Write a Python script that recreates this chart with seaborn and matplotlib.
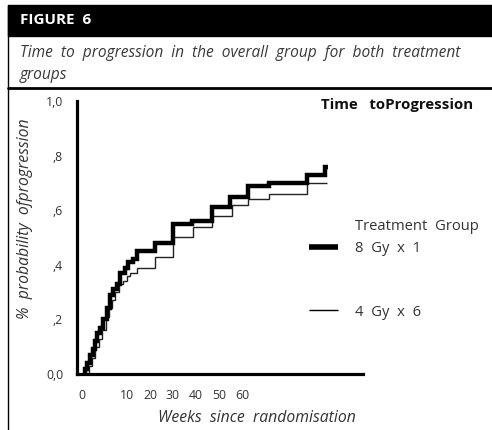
import matplotlib
matplotlib.use("Agg")
import matplotlib.pyplot as plt
import seaborn as sns
import pandas as pd
from matplotlib.patches import Rectangle
from matplotlib.lines import Line2D

# ---------------- data ----------------
weeks_8gy = [1.5, 1.7, 2.1, 2.7, 3.4, 3.8, 4.2, 4.8, 5.5, 6.3, 6.9, 7.5, 8.4, 9.0,
             10.1, 10.7, 11.7, 12.6, 16.4, 20.1, 24.1, 28.3, 32.1, 35.8, 40.3,
             48.2, 52.0, 52.6]
prob_8gy = [0.00, 0.02, 0.04, 0.07, 0.09, 0.12, 0.15, 0.17, 0.20, 0.24, 0.29, 0.31,
            0.33, 0.37, 0.39, 0.41, 0.42, 0.45, 0.48, 0.55, 0.56, 0.61, 0.65, 0.69,
            0.70, 0.73, 0.76, 0.76]
weeks_4gy = [2.0, 2.5, 3.1, 3.8, 4.6, 5.2, 6.1, 6.7, 7.3, 8.0, 8.8, 9.6, 10.5, 11.1,
             12.6, 16.4, 20.1, 24.3, 28.3, 32.5, 35.8, 40.3, 48.2, 52.4]
prob_4gy = [0.00, 0.03, 0.06, 0.10, 0.13, 0.16, 0.21, 0.24, 0.27, 0.30, 0.33, 0.34,
            0.36, 0.37, 0.39, 0.43, 0.50, 0.54, 0.58, 0.62, 0.64, 0.66, 0.70, 0.70]

group_labels = ["8  Gy  x  1", "4  Gy  x  6"]
y_ticks = [0.0, 0.2, 0.4, 0.6, 0.8, 1.0]
y_tick_labels = ["0,0", ",2", ",4", ",6", ",8", "1,0"]
x_tick_marks = [0, 10, 20, 30, 40, 50, 60]
x_label_pos = [1.05, 10.5, 15.3, 20.1, 24.9, 29.8, 34.6]
x_tick_labels = ["0", "10", "20", "30", "40", "50", "60"]

df = pd.concat([
    pd.DataFrame({"weeks": weeks_8gy, "prob": prob_8gy, "group": group_labels[0]}),
    pd.DataFrame({"weeks": weeks_4gy, "prob": prob_4gy, "group": group_labels[1]}),
])

# ---------------- figure ----------------
sns.set_style("white")
plt.rcParams["font.family"] = ["Open Sans", "DejaVu Sans"]

W, H = 492, 430
fig = plt.figure(figsize=(W / 100, H / 100), dpi=100)


def fx(x):
    return x / W


def fy(y):
    return 1 - y / H


TXT = "#333333"

# header bar
fig.patches.append(Rectangle((fx(8), fy(36)), fx(492 - 8), (36 - 5) / H,
                             transform=fig.transFigure, color="black", zorder=0))
fig.text(fx(20), fy(20.5), "FIGURE  6", color="white", fontsize=11,
         fontweight="bold", va="center", ha="left")
# caption
fig.text(fx(20), fy(53), "Time  to  progression  in  the  overall  group  for  both  treatment",
         fontsize=11.2, style="italic", color="#3a3a3a", va="center", ha="left")
fig.text(fx(20), fy(75), "groups", fontsize=11.2, style="italic", color="#3a3a3a",
         va="center", ha="left")
# frame lines
fig.lines.append(Line2D([fx(8), fx(8)], [fy(5), fy(430)], transform=fig.transFigure,
                        color="black", lw=1.0))
fig.lines.append(Line2D([fx(8), fx(492)], [fy(88), fy(88)], transform=fig.transFigure,
                        color="black", lw=2.0))

# axes
ax = fig.add_axes([fx(77), fy(374), fx(363 - 77), (374 - 101) / H])
ax.set_facecolor("none")

sns.lineplot(data=df[df.group == group_labels[1]], x="weeks", y="prob",
             estimator=None, sort=False, drawstyle="steps-post", color="#222222",
             linewidth=1.0, ax=ax, legend=False,
             solid_joinstyle="miter", solid_capstyle="butt")
sns.lineplot(data=df[df.group == group_labels[0]], x="weeks", y="prob",
             estimator=None, sort=False, drawstyle="steps-post", color="black",
             linewidth=3.2, ax=ax, legend=False,
             solid_joinstyle="miter", solid_capstyle="butt")

ax.set_xlim(0, 60)
ax.set_ylim(0, 1)
sns.despine(ax=ax)
for s in ["left", "bottom"]:
    ax.spines[s].set_linewidth(2.3)
    ax.spines[s].set_color("black")
    ax.spines[s].set_capstyle("projecting")

ax.set_yticks(y_ticks)
ax.set_yticklabels(y_tick_labels)
ax.tick_params(axis="y", direction="out", length=2.5, width=2, color="black",
               labelsize=8.8, labelcolor=TXT, pad=7.5)

ax.set_xticks(x_label_pos)
ax.set_xticklabels(x_tick_labels)
ax.set_xticks(x_tick_marks, minor=True)
ax.tick_params(axis="x", which="major", length=0, labelsize=8.8, labelcolor=TXT, pad=11)
ax.tick_params(axis="x", which="minor", direction="out", length=2.5, width=2,
               color="black")

ax.set_xlabel("")
ax.set_ylabel("")
fig.text(fx(257), fy(418), "Weeks  since  randomisation", fontsize=11.3,
         style="italic", color=TXT, ha="center", va="center")
fig.text(fx(25), fy(219), "%  probability  ofprogression", fontsize=11.3,
         style="italic", color=TXT, ha="center", va="center", rotation=90)

fig.text(fx(473), fy(105), "Time   toProgression", fontsize=10.8, fontweight="bold",
         color="#111111", ha="right", va="center")

# legend
fig.text(fx(355), fy(226), "Treatment  Group", fontsize=10.6, color=TXT,
         ha="left", va="center")
leg_handles = [Line2D([], [], color="black", lw=4.0, solid_capstyle="butt"),
               Line2D([], [], color="black", lw=1.0, solid_capstyle="butt")]
leg = ax.legend(leg_handles, group_labels, loc="upper left",
                bbox_to_anchor=(fx(309), fy(241)), bbox_transform=fig.transFigure,
                frameon=False, fontsize=10.6, handlelength=1.95, handletextpad=1.2,
                labelspacing=3.3, borderpad=0, borderaxespad=0)
for t in leg.get_texts():
    t.set_color(TXT)

fig.savefig("out.png", dpi=100)
